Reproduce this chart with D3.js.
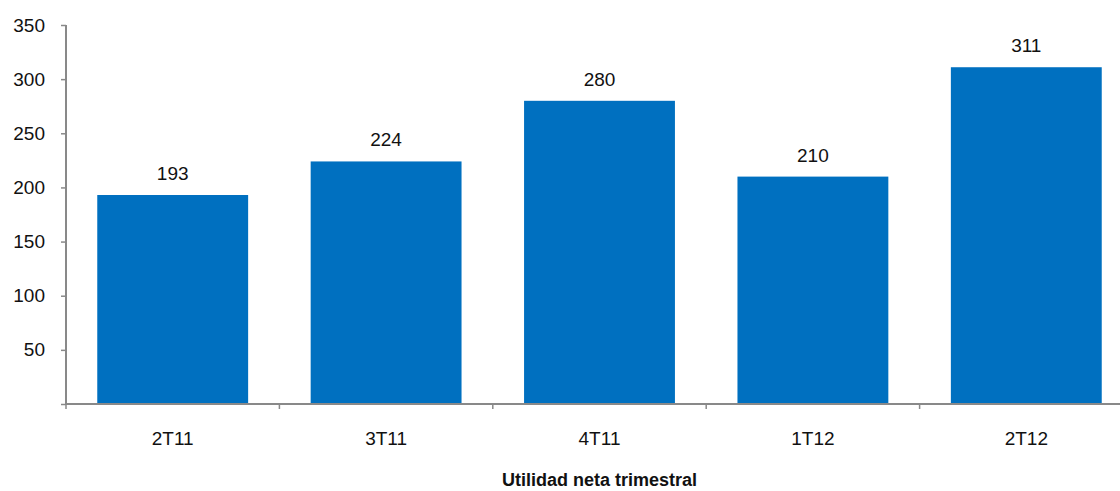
<!DOCTYPE html>
<html>
<head>
<meta charset="utf-8">
<script src="https://cdn.jsdelivr.net/npm/d3@7"></script>
<style>
  body { margin: 0; background: #fff; }
  text { font-family: "Liberation Sans", Arial, sans-serif; fill: #111; }
</style>
</head>
<body>
<div id="chartContainer"></div>
<script>
// Data
const quarters = ["2T11", "3T11", "4T11", "1T12", "2T12"];
const netIncome = [193, 224, 280, 210, 311];
const yTicks = [50, 100, 150, 200, 250, 300, 350];
const xTitle = "Utilidad neta trimestral";

const w = 1120;
const h = 491;
const plot = { left: 66, right: 1133, top: 25, bottom: 404 };

const svg = d3.select("#chartContainer")
  .append("svg")
    .attr("width", w)
    .attr("height", h);

const xScale = d3.scaleBand()
  .domain(quarters)
  .range([plot.left, plot.right])
  .paddingInner(0.293)
  .paddingOuter(0.1465);

const yScale = d3.scaleLinear()
  .domain([0, 350])
  .range([plot.bottom, plot.top]);

// Bars
svg.selectAll(".bar")
  .data(quarters)
  .enter()
  .append("rect")
    .attr("class", "bar")
    .attr("x", d => xScale(d))
    .attr("y", (d, i) => yScale(netIncome[i]))
    .attr("width", xScale.bandwidth())
    .attr("height", (d, i) => yScale(0) - yScale(netIncome[i]))
    .attr("fill", "#0070C0");

// Value labels
svg.selectAll(".val")
  .data(quarters)
  .enter()
  .append("text")
    .attr("x", d => xScale(d) + xScale.bandwidth() / 2)
    .attr("y", (d, i) => yScale(netIncome[i]) - 15)
    .attr("text-anchor", "middle")
    .attr("font-size", 19)
    .text((d, i) => netIncome[i]);

// Y axis
const yAxis = svg.append("g")
  .attr("transform", `translate(${plot.left},0)`)
  .call(d3.axisLeft(yScale).tickValues([0].concat(yTicks)).tickSize(5).tickPadding(16)
    .tickFormat(d => d === 0 ? "" : d));
yAxis.select(".domain").attr("stroke", "#898989").attr("stroke-width", 2).attr("d", `M0,${plot.top}V${plot.bottom}`);
yAxis.selectAll(".tick line").attr("stroke", "#898989").attr("stroke-width", 1.5);
yAxis.selectAll(".tick text").attr("font-size", 19).attr("fill", "#111")
  .attr("font-family", "Liberation Sans, Arial, sans-serif");

// X axis with ticks at band boundaries
const bounds = quarters.map(d => xScale(d) - xScale.step() * xScale.paddingInner() / 2);
const xAxis = svg.append("g").attr("transform", `translate(0,${plot.bottom})`);
xAxis.append("line")
  .attr("x1", plot.left).attr("x2", w)
  .attr("stroke", "#898989").attr("stroke-width", 2);
xAxis.selectAll(".xtick")
  .data(bounds)
  .enter()
  .append("line")
    .attr("x1", d => d).attr("x2", d => d)
    .attr("y1", 0).attr("y2", 5)
    .attr("stroke", "#898989").attr("stroke-width", 1.5);
xAxis.selectAll(".xlabel")
  .data(quarters)
  .enter()
  .append("text")
    .attr("x", d => xScale(d) + xScale.bandwidth() / 2)
    .attr("y", 41)
    .attr("text-anchor", "middle")
    .attr("font-size", 19)
    .text(d => d);

// Axis title
svg.append("text")
  .attr("x", (plot.left + plot.right) / 2)
  .attr("y", 486)
  .attr("text-anchor", "middle")
  .attr("font-size", 18)
  .attr("font-weight", "bold")
  .text(xTitle);
</script>
</body>
</html>
